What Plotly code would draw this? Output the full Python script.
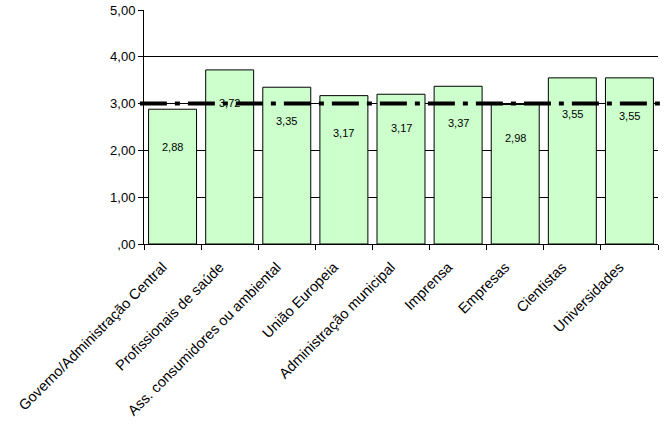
import plotly.graph_objects as go

categories = ["Governo/Administração Central", "Profissionais de saúde",
              "Ass. consumidores ou ambiental", "União Europeia",
              "Administração municipal", "Imprensa", "Empresas",
              "Cientistas", "Universidades"]
values = [2.88, 3.72, 3.35, 3.17, 3.20, 3.37, 2.98, 3.55, 3.55]
value_labels = ["2,88", "3,72", "3,35", "3,17", "3,17", "3,37", "2,98", "3,55", "3,55"]
label_shift = [-30, -25, -26, -29, -26, -29, -25, -28, -30]
reference_value = 3.0
tick_vals = [0, 1, 2, 3, 4, 5]
tick_text = [",00", "1,00", "2,00", "3,00", "4,00", "5,00"]

fig = go.Figure()
fig.add_trace(go.Bar(
    x=categories, y=values,
    marker=dict(color="#CCFFCC", line=dict(color="black", width=1)),
    hoverinfo="skip",
))

for c, v, t, s in zip(categories, values, value_labels, label_shift):
    fig.add_annotation(x=c, y=v, text=t, showarrow=False, yanchor="top",
                       yshift=s, font=dict(family="Liberation Sans, Arial", size=11, color="black"))

fig.add_shape(type="line", xref="paper", yref="y", x0=-0.008, x1=1.008,
              y0=reference_value, y1=reference_value,
              line=dict(color="black", width=4, dash="27px,8px,5px,8px"), layer="above")

fig.update_layout(
    width=672, height=431,
    margin=dict(l=144, r=14, t=10, b=187),
    paper_bgcolor="white", plot_bgcolor="white",
    bargap=0.16, showlegend=False,
    font=dict(family="Liberation Sans, Arial", size=13, color="black"),
)
fig.update_yaxes(range=[0, 5], tickvals=tick_vals, ticktext=tick_text,
                 showgrid=True, gridcolor="black", gridwidth=1,
                 showline=True, linecolor="black", linewidth=1,
                 ticks="outside", ticklen=5, tickcolor="black",
                 zeroline=False, tickfont=dict(size=13), automargin=False)
fig.update_xaxes(tickangle=-45, showline=True, linecolor="black", linewidth=1,
                 ticks="outside", tickson="boundaries", ticklen=5, tickcolor="black",
                 tickfont=dict(size=14.5), automargin=False,
                 ticklabelshift=-10, ticklabelstandoff=8)

fig.write_html("out.html")
